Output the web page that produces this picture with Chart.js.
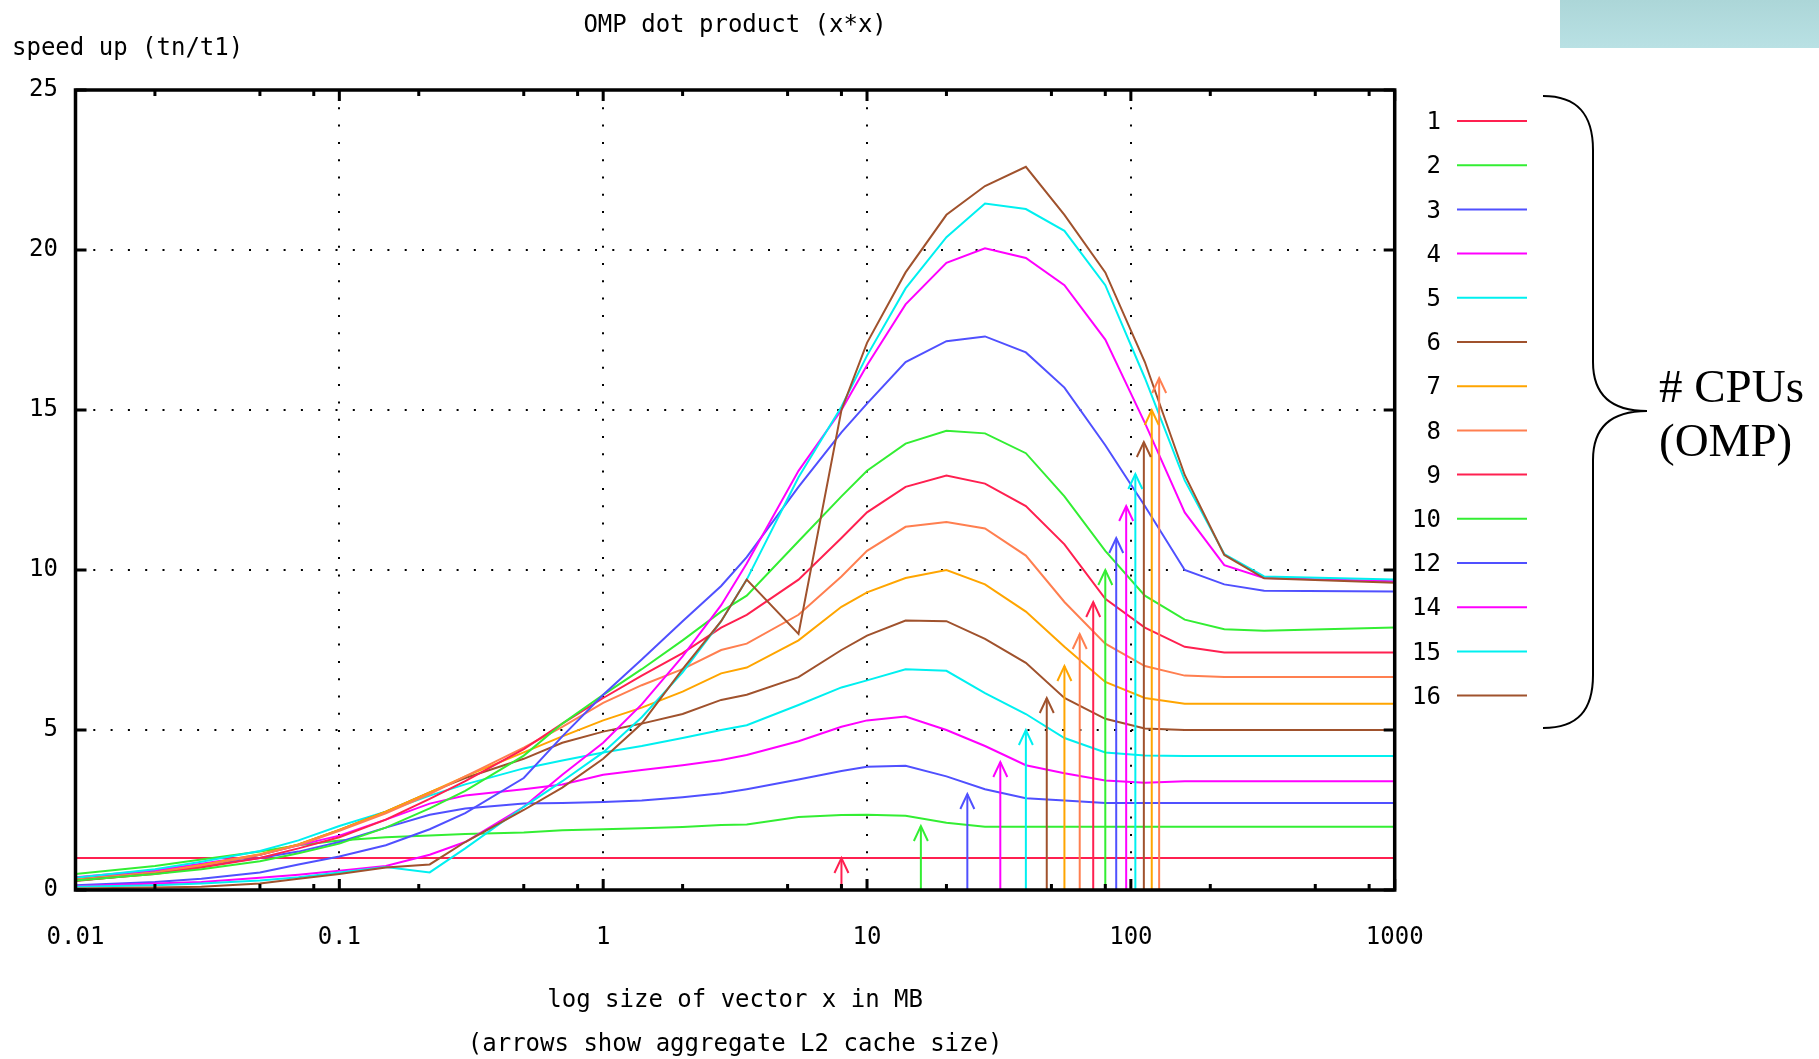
<!DOCTYPE html>
<html><head><meta charset="utf-8">
<script src="https://cdn.jsdelivr.net/npm/chart.js@4.4.1/dist/chart.umd.min.js"></script>
<style>html,body{margin:0;padding:0;background:#fff;overflow:hidden}#wrap{position:relative;width:1819px;height:1067px}</style>
</head><body><div id="wrap"><canvas id="c"></canvas></div>
<script>
const chartTitle = 'OMP dot product (x*x)';
const yAxisLabel = 'speed up (tn/t1)';
const xAxisLabel = ['log size of vector x in MB', '(arrows show aggregate L2 cache size)'];
const cpuNote = ['# CPUs', '(OMP)'];
const xTicks = [0.01, 0.1, 1, 10, 100, 1000];
const xTickLabels = ['0.01', '0.1', '1', '10', '100', '1000'];
const yTicks = [0, 5, 10, 15, 20, 25];
const seriesNames = ['1', '2', '3', '4', '5', '6', '7', '8', '9', '10', '12', '14', '15', '16'];
const palette = ['#ff2050', '#33ee33', '#5050ff', '#ff00ff', '#00f0f0', '#a0522d', '#ffa500', '#ff7f50'];
const seriesColorIdx = [0, 1, 2, 3, 4, 5, 6, 7, 0, 1, 2, 3, 4, 5];

const sizesMB = [0.01, 0.02, 0.03, 0.05, 0.07, 0.1, 0.15, 0.22, 0.3, 0.5, 0.7, 1, 1.4, 2, 2.8, 3.5, 5.5, 8, 10, 14, 20, 28, 40, 56, 80, 113, 160, 226, 320, 1000];

const s1  = [1,1,1,1,1,1,1,1,1,1,1,1,1,1,1,1,1,1,1,1,1,1,1,1,1,1,1,1,1,1];
const s2  = [0.5,0.75,0.95,1.2,1.4,1.55,1.65,1.7,1.75,1.8,1.87,1.9,1.93,1.97,2.03,2.05,2.28,2.34,2.35,2.32,2.1,1.98,1.98,1.98,1.98,1.98,1.98,1.98,1.98,1.98];
const s3  = [0.35,0.58,0.75,1.0,1.2,1.5,1.95,2.35,2.55,2.7,2.72,2.75,2.8,2.9,3.02,3.15,3.45,3.72,3.85,3.88,3.55,3.15,2.87,2.8,2.72,2.72,2.72,2.72,2.72,2.72];
const s4  = [0.4,0.62,0.82,1.1,1.4,1.7,2.2,2.7,2.95,3.15,3.3,3.6,3.75,3.9,4.06,4.22,4.65,5.1,5.3,5.42,5.0,4.5,3.9,3.65,3.42,3.35,3.4,3.4,3.4,3.4];
const s5  = [0.38,0.65,0.88,1.22,1.55,2.0,2.45,2.95,3.3,3.8,4.05,4.3,4.5,4.75,5.0,5.15,5.78,6.33,6.55,6.9,6.85,6.15,5.5,4.75,4.3,4.2,4.19,4.19,4.19,4.19];
const s6  = [0.28,0.52,0.75,1.1,1.42,1.88,2.45,3.05,3.5,4.1,4.6,4.95,5.2,5.5,5.94,6.1,6.65,7.5,7.95,8.42,8.4,7.85,7.1,6.0,5.35,5.05,5.0,5.0,5.0,5.0];
const s7  = [0.32,0.55,0.78,1.12,1.42,1.88,2.45,3.05,3.55,4.3,4.8,5.3,5.7,6.2,6.77,6.95,7.8,8.85,9.3,9.75,10.0,9.55,8.7,7.6,6.5,6.0,5.82,5.82,5.82,5.82];
const s8  = [0.32,0.55,0.75,1.1,1.4,1.85,2.4,3.0,3.55,4.45,5.1,5.85,6.4,6.9,7.5,7.7,8.6,9.8,10.6,11.35,11.5,11.3,10.45,9.0,7.7,7.0,6.7,6.66,6.66,6.66];
const s9  = [0.3,0.5,0.7,1.0,1.3,1.65,2.2,2.85,3.4,4.4,5.2,6.0,6.7,7.4,8.2,8.6,9.7,11.0,11.8,12.6,12.95,12.7,12.0,10.8,9.1,8.2,7.6,7.42,7.42,7.42];
const s10 = [0.3,0.5,0.65,0.9,1.15,1.45,1.95,2.55,3.1,4.2,5.2,6.1,6.9,7.8,8.7,9.2,10.9,12.3,13.1,13.95,14.35,14.27,13.65,12.3,10.6,9.2,8.45,8.15,8.1,8.2];
const s12 = [0.15,0.25,0.35,0.55,0.8,1.05,1.4,1.9,2.4,3.5,4.8,6.1,7.2,8.4,9.5,10.4,12.6,14.3,15.2,16.5,17.15,17.3,16.8,15.7,13.9,12.0,10.0,9.55,9.35,9.33];
const s14 = [0.12,0.2,0.25,0.38,0.48,0.6,0.75,1.1,1.5,2.6,3.6,4.6,5.8,7.3,8.9,10.2,13.1,15.0,16.4,18.3,19.6,20.05,19.75,18.9,17.2,14.6,11.8,10.15,9.75,9.65];
const s15 = [0.1,0.15,0.2,0.3,0.4,0.55,0.72,0.55,1.3,2.6,3.4,4.3,5.4,6.8,8.4,9.7,12.9,15.1,16.7,18.8,20.4,21.45,21.28,20.6,18.9,16.0,12.8,10.5,9.8,9.7];
const s16 = [0.05,0.08,0.1,0.2,0.35,0.5,0.7,0.8,1.5,2.5,3.2,4.1,5.2,6.9,8.4,9.7,8.0,15.0,17.1,19.3,21.1,22.0,22.6,21.1,19.3,16.5,12.97,10.47,9.74,9.6];
const seriesValues = [s1, s2, s3, s4, s5, s6, s7, s8, s9, s10, s12, s14, s15, s16];

const arrowSizeMB = [8, 16, 24, 32, 40, 48, 56, 64, 72, 80, 88, 96, 104, 112, 120, 128];
const arrowHeight = [1, 2, 3, 4, 5, 6, 7, 8, 9, 10, 11, 12, 13, 14, 15, 16];

const MONO = '"DejaVu Sans Mono", "Liberation Mono", monospace';

const datasets = [];
seriesValues.forEach((vals, i) => {
  datasets.push({
    label: seriesNames[i],
    data: sizesMB.map((x, j) => ({x: x, y: vals[j]})),
    borderColor: palette[seriesColorIdx[i]],
    borderWidth: 2,
    pointRadius: 0,
    tension: 0,
    fill: false,
    order: -i
  });
});
arrowSizeMB.forEach((mb, i) => {
  datasets.push({
    label: 'arrow' + (i + 1),
    data: [{x: mb, y: 0}, {x: mb, y: arrowHeight[i]}],
    borderColor: palette[i % 8],
    borderWidth: 2,
    pointRadius: 0,
    fill: false,
    order: -20 - i
  });
});

const decor = {
  id: 'decor',
  beforeDraw(chart) {
    const ctx = chart.ctx;
    ctx.save();
    const g = ctx.createLinearGradient(0, 0, 0, 48);
    g.addColorStop(0, '#acd6d8');
    g.addColorStop(1, '#b9e1e4');
    ctx.fillStyle = g;
    ctx.fillRect(1560, 0, 259, 48);
    ctx.restore();
  },
  afterDatasetsDraw(chart) {
    const {ctx, chartArea: a, scales: {x, y}} = chart;
    ctx.save();
    arrowSizeMB.forEach((mb, i) => {
      const px = x.getPixelForValue(mb), py = y.getPixelForValue(arrowHeight[i]);
      ctx.strokeStyle = palette[i % 8];
      ctx.lineWidth = 2;
      ctx.beginPath();
      ctx.moveTo(px - 7, py + 15);
      ctx.lineTo(px, py);
      ctx.lineTo(px + 7, py + 15);
      ctx.stroke();
    });
    ctx.strokeStyle = '#000';
    ctx.lineWidth = 3;
    ctx.beginPath();
    xTicks.forEach((v) => {
      const px = x.getPixelForValue(v);
      ctx.moveTo(px, a.bottom); ctx.lineTo(px, a.bottom - 11);
      ctx.moveTo(px, a.top); ctx.lineTo(px, a.top + 11);
      if (v < 1000) {
        [2, 5, 8].forEach((m) => {
          const qx = x.getPixelForValue(v * m);
          ctx.moveTo(qx, a.bottom); ctx.lineTo(qx, a.bottom - 6);
          ctx.moveTo(qx, a.top); ctx.lineTo(qx, a.top + 6);
        });
      }
    });
    yTicks.forEach((v) => {
      const py = y.getPixelForValue(v);
      ctx.moveTo(a.left, py); ctx.lineTo(a.left + 11, py);
      ctx.moveTo(a.right, py); ctx.lineTo(a.right - 11, py);
    });
    ctx.stroke();
    ctx.lineWidth = 3.5;
    ctx.strokeRect(a.left, a.top, a.right - a.left, a.bottom - a.top);
    ctx.restore();
  },
  afterDraw(chart) {
    const {ctx, chartArea: a} = chart;
    ctx.save();
    ctx.fillStyle = '#000';
    ctx.font = '24px ' + MONO;
    ctx.textBaseline = 'middle';
    ctx.textAlign = 'center';
    ctx.fillText(chartTitle, (a.left + a.right) / 2, 26);
    ctx.textAlign = 'left';
    ctx.fillText(yAxisLabel, 12, 49);
    seriesNames.forEach((name, i) => {
      const ly = 121 + i * 44.2;
      ctx.textAlign = 'right';
      ctx.fillStyle = '#000';
      ctx.fillText(name, 1441, ly + 2);
      ctx.strokeStyle = palette[seriesColorIdx[i]];
      ctx.lineWidth = 2;
      ctx.beginPath();
      ctx.moveTo(1457, ly); ctx.lineTo(1527, ly);
      ctx.stroke();
    });
    ctx.strokeStyle = '#000';
    ctx.lineWidth = 2;
    ctx.beginPath();
    ctx.moveTo(1543, 96);
    ctx.bezierCurveTo(1578, 96, 1593, 115, 1593, 150);
    ctx.lineTo(1593, 362);
    ctx.bezierCurveTo(1593, 395, 1612, 411, 1647, 411);
    ctx.bezierCurveTo(1612, 411, 1593, 427, 1593, 460);
    ctx.lineTo(1593, 675);
    ctx.bezierCurveTo(1593, 710, 1578, 728, 1543, 728);
    ctx.stroke();
    ctx.font = '47px "Liberation Serif", "Times New Roman", serif';
    ctx.textAlign = 'left';
    ctx.textBaseline = 'alphabetic';
    ctx.fillStyle = '#000';
    ctx.fillText(cpuNote[0], 1659, 402);
    ctx.fillText(cpuNote[1], 1659, 456);
    ctx.restore();
  }
};

new Chart(document.getElementById('c'), {
  type: 'line',
  data: {datasets: datasets},
  options: {
    responsive: true,
    maintainAspectRatio: false,
    animation: false,
    events: [],
    layout: {padding: {left: 0, right: 424.3, top: 90, bottom: 0}},
    plugins: {legend: {display: false}, tooltip: {enabled: false}, title: {display: false}},
    scales: {
      x: {
        type: 'logarithmic',
        min: 0.01, max: 1000,
        afterBuildTicks: (s) => { s.ticks = xTicks.map((v) => ({value: v})); },
        afterFit: (s) => { s.height = 177; },
        ticks: {
          autoSkip: false, maxRotation: 0, padding: 33, color: '#000',
          font: {family: MONO, size: 24},
          callback: (v, i) => xTickLabels[i]
        },
        grid: {color: '#000', lineWidth: 2, drawTicks: false},
        border: {display: false, dash: [2, 15.3]},
        title: {
          display: true, text: xAxisLabel, color: '#000',
          font: {family: MONO, size: 24, lineHeight: 1.83},
          padding: {top: 0, bottom: 0}
        }
      },
      y: {
        type: 'linear',
        min: 0, max: 25,
        afterBuildTicks: (s) => { s.ticks = yTicks.map((v) => ({value: v})); },
        afterFit: (s) => { s.width = 75.5; },
        ticks: {padding: 17.5, color: '#000', font: {family: MONO, size: 24}},
        grid: {color: '#000', lineWidth: 2, drawTicks: false},
        border: {display: false, dash: [2, 15.3]}
      }
    }
  },
  plugins: [decor]
});
</script>
</body></html>
